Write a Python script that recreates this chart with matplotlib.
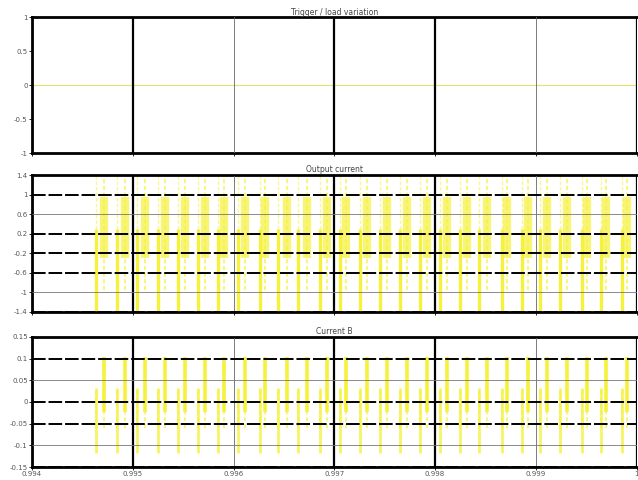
import matplotlib.pyplot as plt

# time base (s)
spike_up_t = [0.99472, 0.99492, 0.99512, 0.99532, 0.99552, 0.99572, 0.99591,
              0.99611, 0.99631, 0.99653, 0.99673, 0.99693, 0.99712, 0.99732,
              0.99752, 0.99772, 0.99792, 0.99812, 0.99832, 0.99851, 0.99871,
              0.99892, 0.99911, 0.99931, 0.99951, 0.99970, 0.99990]
spike_dn_t = [0.99464, 0.99484, 0.99504, 0.99525, 0.99545, 0.99565, 0.99585,
              0.99604, 0.99626, 0.99644, 0.99664, 0.99686, 0.99706, 0.99725,
              0.99745, 0.99765, 0.99785, 0.99805, 0.99825, 0.99844, 0.99866,
              0.99886, 0.99904, 0.99924, 0.99946, 0.99965, 0.99985]

trigger_t = [0.9940, 1.0000]
trigger_v = [0.0, 0.0]

# middle trace extents
mid_dn_lo, mid_dn_hi = -1.38, 0.3
mid_up_lo, mid_up_hi = -0.95, 1.38
mid_lens_lo, mid_lens_hi = -0.3, 0.95

# bottom trace extents
bot_up_lo, bot_up_hi = -0.023, 0.104
bot_dn_lo, bot_dn_hi = -0.118, 0.032
bot_mid_lo, bot_mid_hi = -0.06, 0.035

x_ticks = [0.994, 0.995, 0.996, 0.997, 0.998, 0.999, 1.000]
x_labels = ['0.994', '0.995', '0.996', '0.997', '0.998', '0.999', '1']
top_ticks = [-1, -0.5, 0, 0.5, 1]
mid_ticks = [-1.4, -1.0, -0.6, -0.2, 0.2, 0.6, 1.0, 1.4]
bot_ticks = [-0.15, -0.1, -0.05, 0, 0.05, 0.1, 0.15]

titles = ['Trigger / load variation', 'Output current', 'Current B']

YEL = '#f6f23c'
fig = plt.figure(figsize=(6.38, 4.8), dpi=100)
ax1 = fig.add_axes([0.050, 0.681, 0.948, 0.283])
ax2 = fig.add_axes([0.050, 0.350, 0.948, 0.285])
ax3 = fig.add_axes([0.050, 0.027, 0.948, 0.271])

ax1.plot(trigger_t, trigger_v, color='#e6e070', lw=0.8)

ax2.vlines(spike_up_t, mid_lens_lo, mid_lens_hi, color=YEL, lw=6, alpha=0.7)
ax2.vlines(spike_up_t, mid_up_lo, mid_up_hi, color=YEL, lw=1.2, alpha=0.8,
           linestyles=(0, (2.5, 1.5)))
ax2.vlines(spike_dn_t, mid_up_lo, mid_up_hi, color=YEL, lw=1.0, alpha=0.6,
           linestyles=(0, (2.5, 1.5)))
ax2.vlines(spike_dn_t, mid_dn_lo, mid_dn_hi, color=YEL, lw=2.4)

ax3.vlines(spike_up_t, bot_up_lo, bot_up_hi, color=YEL, lw=2.6)
ax3.vlines(spike_dn_t, bot_dn_lo, bot_dn_hi, color=YEL, lw=2.0, alpha=0.8)
ax3.vlines(spike_up_t + spike_dn_t, bot_mid_lo, bot_mid_hi, color=YEL, lw=1.4,
           alpha=0.7, linestyles=(0, (2, 1.5)))

for ax, yt, title in zip([ax1, ax2, ax3], [top_ticks, mid_ticks, bot_ticks], titles):
    ax.set_xlim(0.994, 1.000)
    ax.set_ylim(yt[0], yt[-1])
    ax.set_yticks(yt)
    ax.set_yticklabels([f'{v:g}' for v in yt], fontsize=5, color='#555555')
    ax.set_xticks(x_ticks)
    ax.set_title(title, fontsize=5.5, color='#444444', pad=2)
    ax.spines['right'].set_visible(False)
    for s in ['top', 'left', 'bottom']:
        ax.spines[s].set_linewidth(2)
    ax.tick_params(length=2, width=0.6, pad=1)
    ax.set_axisbelow(False)
    ax.grid(True, axis='x', color='black', lw=1.6)
    for i, gl in enumerate(ax.get_xgridlines()):
        if i in (2, 5):
            gl.set_linewidth(0.6)
            gl.set_color('#666666')
    if ax is not ax1:
        ax.grid(True, axis='y', color='black', lw=1.4, linestyle=(0, (7, 1.5)))
        for i, gl in enumerate(ax.get_ygridlines()):
            if i in (1, 4) and ax is ax3 or i in (1, 5) and ax is ax2:
                gl.set_linewidth(0.6)
                gl.set_color('#777777')
                gl.set_linestyle('-')

ax1.set_xticklabels([])
ax2.set_xticklabels([])
ax3.set_xticklabels(x_labels, fontsize=5, color='#555555')

fig.savefig('out.png', dpi=100)
